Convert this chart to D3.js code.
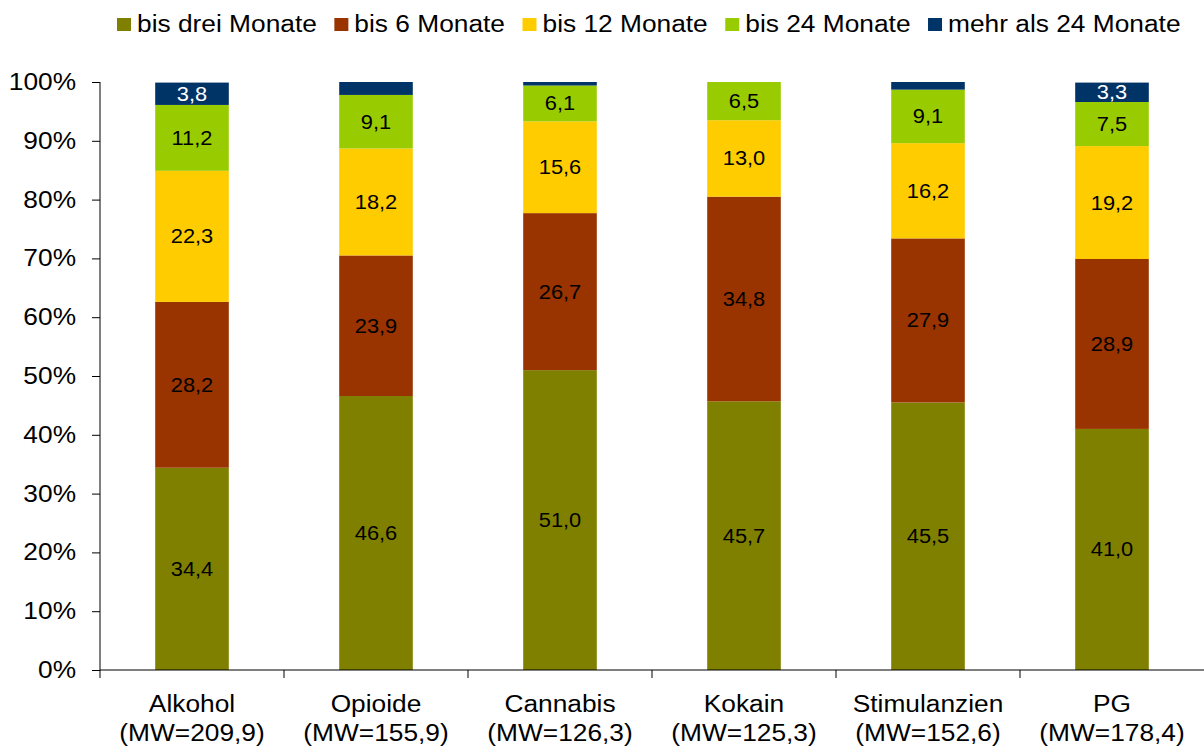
<!DOCTYPE html>
<html>
<head>
<meta charset="utf-8">
<script src="https://cdn.jsdelivr.net/npm/d3@7"></script>
<style>
  body { margin: 0; background: #fff; }
  svg text { font-family: "Liberation Sans", Arial, sans-serif; fill: #000; }
</style>
</head>
<body>
<div id="vis"></div>
<script>
const categories = ["Alkohol", "Opioide", "Cannabis", "Kokain", "Stimulanzien", "PG"];
const categoryMW = ["(MW=209,9)", "(MW=155,9)", "(MW=126,3)", "(MW=125,3)", "(MW=152,6)", "(MW=178,4)"];
const seriesNames = ["bis drei Monate", "bis 6 Monate", "bis 12 Monate", "bis 24 Monate", "mehr als 24 Monate"];

const bis3 = [34.4, 46.6, 51.0, 45.7, 45.5, 41.0];
const bis6 = [28.2, 23.9, 26.7, 34.8, 27.9, 28.9];
const bis12 = [22.3, 18.2, 15.6, 13.0, 16.2, 19.2];
const bis24 = [11.2, 9.1, 6.1, 6.5, 9.1, 7.5];
const mehr24 = [3.8, 2.2, 0.6, 0.0, 1.3, 3.3];
// only these small top segments carry a printed value
const showMehrLabel = [true, false, false, false, false, true];

const yTicks = [0, 10, 20, 30, 40, 50, 60, 70, 80, 90, 100];

const colors = ["#808000", "#993300", "#FFCC00", "#99CC00", "#003366"];

// the original text is slightly wider than Arial
const SX = 1.12;

const W = 1204, H = 747;
const margin = { top: 82, right: 0, bottom: 77, left: 100 };
const width = W - margin.left - margin.right;
const height = H - margin.top - margin.bottom;

const svg = d3.select("#vis").append("svg")
    .attr("width", W)
    .attr("height", H);

const g = svg.append("g")
    .attr("transform", `translate(${margin.left},${margin.top})`);

const seriesValues = [bis3, bis6, bis12, bis24, mehr24];
const rows = categories.map((c, i) => {
    const r = { cat: c };
    seriesNames.forEach((s, k) => { r[s] = seriesValues[k][i]; });
    return r;
});
const stacked = d3.stack().keys(seriesNames)(rows);

const x = d3.scaleBand()
    .domain(categories)
    .range([0, width])
    .paddingInner(0.6)
    .paddingOuter(0.3);

const y = d3.scaleLinear()
    .domain([0, 100])
    .range([height, 0]);

const top100 = d => y(Math.min(d[1], 100));

// bars
stacked.forEach((layer, k) => {
    g.append("g")
        .selectAll("rect")
        .data(layer)
        .join("rect")
        .attr("x", d => x(d.data.cat))
        .attr("width", x.bandwidth())
        .attr("y", top100)
        .attr("height", d => y(d[0]) - top100(d))
        .attr("fill", colors[k]);
});

// data labels
stacked.forEach((layer, k) => {
    g.append("g")
        .selectAll("text")
        .data(layer.filter((d, i) => d[1] - d[0] > 0 && (k < 4 || showMehrLabel[i])))
        .join("text")
        .attr("transform", d => `translate(${x(d.data.cat) + x.bandwidth() / 2},${(y(d[0]) + top100(d)) / 2}) scale(${SX},1)`)
        .attr("dy", "0.36em")
        .attr("text-anchor", "middle")
        .style("font-size", "19.5px")
        .style("fill", k === 4 ? "#fff" : "#000")
        .text(d => d3.format(".1f")(d[1] - d[0]).replace(".", ","));
});

// y axis
const yAxis = g.append("g")
    .call(d3.axisLeft(y).tickValues(yTicks).tickSize(8).tickPadding(13.4).tickFormat(d => d + "%"));
yAxis.select(".domain").attr("d", `M0,${height}V0`).attr("stroke", "#000");
yAxis.selectAll(".tick line").attr("stroke", "#000");
yAxis.selectAll(".tick text")
    .attr("font-family", null)
    .attr("transform", `scale(${SX},1)`)
    .style("font-size", "23.5px");

// x axis, ticks between the categories
const xAxisG = g.append("g").attr("transform", `translate(0,${height})`);
xAxisG.append("line")
    .attr("x1", 0).attr("x2", width)
    .attr("stroke", "#000");
xAxisG.selectAll(".xtick")
    .data(categories)
    .join("line")
    .attr("class", "xtick")
    .attr("x1", c => x(c) - x.step() * x.paddingOuter())
    .attr("x2", c => x(c) - x.step() * x.paddingOuter())
    .attr("y1", 0).attr("y2", 8)
    .attr("stroke", "#000");

const catLabels = xAxisG.selectAll(".cat")
    .data(categories)
    .join("g")
    .attr("class", "cat")
    .attr("transform", c => `translate(${x(c) + x.bandwidth() / 2},0) scale(${SX},1)`);
catLabels.append("text")
    .attr("text-anchor", "middle")
    .attr("y", 42)
    .style("font-size", "23.5px")
    .text(c => c);
catLabels.append("text")
    .attr("text-anchor", "middle")
    .attr("y", 71)
    .style("font-size", "23.5px")
    .text((c, i) => categoryMW[i]);

// legend
const legend = svg.append("g").attr("transform", "translate(117,0)");
let lx = 0;
seriesNames.forEach((s, k) => {
    legend.append("rect")
        .attr("x", lx).attr("y", 18)
        .attr("width", 14).attr("height", 13)
        .attr("fill", colors[k]);
    const t = legend.append("text")
        .attr("transform", `translate(${lx + 20},32) scale(${SX},1)`)
        .style("font-size", "23.5px")
        .text(s);
    lx += 20 + t.node().getComputedTextLength() * SX + 17.5;
});
</script>
</body>
</html>
